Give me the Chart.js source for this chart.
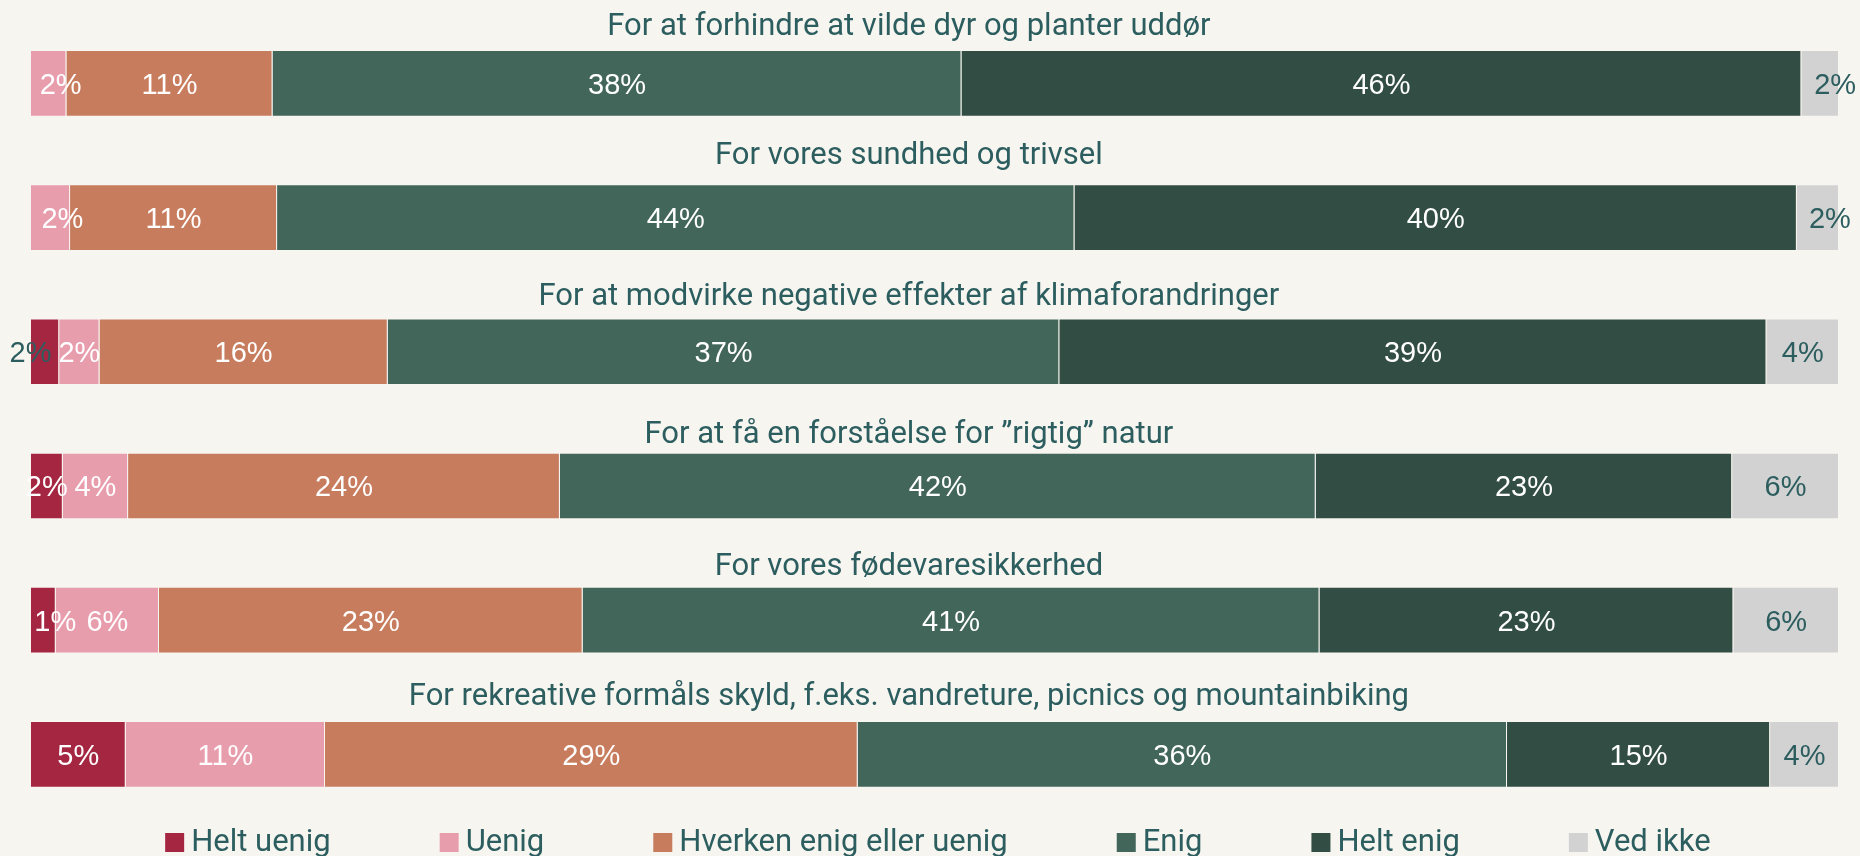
<!DOCTYPE html>
<html><head><meta charset="utf-8">
<script src="https://cdn.jsdelivr.net/npm/chart.js@4.4.1/dist/chart.umd.min.js"></script>
<style>
html,body{margin:0;padding:0;background:#f7f5f0;}
#wrap{width:1860px;height:856px;position:relative;}
</style></head><body>
<div id="wrap"><canvas id="c"></canvas></div>
<script>
const categories = [
  'For at forhindre at vilde dyr og planter uddør',
  'For vores sundhed og trivsel',
  'For at modvirke negative effekter af klimaforandringer',
  'For at få en forståelse for \u201drigtig\u201d natur',
  'For vores fødevaresikkerhed',
  'For rekreative formåls skyld, f.eks. vandreture, picnics og mountainbiking'
];
const seriesNames = ['Helt uenig', 'Uenig', 'Hverken enig eller uenig', 'Enig', 'Helt enig', 'Ved ikke'];
const heltUenig = [0, 0, 1.57, 1.77, 1.38, 5.25];
const uenig     = [1.97, 2.17, 2.23, 3.61, 5.71, 11.02];
const hverken   = [11.4, 11.45, 15.94, 23.88, 23.43, 29.46];
const enig      = [38.1, 44.1, 37.14, 41.80, 40.75, 35.91];
const heltEnig  = [46.45, 39.95, 39.11, 23.03, 22.89, 14.55];
const vedIkke   = [2.08, 2.33, 4.01, 5.91, 5.84, 3.81];
const seriesValues = [heltUenig, uenig, hverken, enig, heltEnig, vedIkke];

const seriesColors = ['#a52641', '#e89dad', '#c87c5e', '#42665a', '#324d44', '#d2d2d2'];
const TEXT = '#2c5d5f';
const labelColors = ['#ffffff', '#ffffff', '#ffffff', '#ffffff', '#ffffff', TEXT];
const TITLE_FONT = '31px Roboto, "Liberation Sans", sans-serif';
const VALUE_FONT = '29px "Liberation Sans", Arial, sans-serif';
const titleGaps = [15, 20.7, 13.3, 9.6, 11.7, 16];
const labelNudges = {'0-5': 15, '1-5': 12, '2-0': -14.5, '0-1': 12, '1-1': 12, '4-0': 12};
const labelColorOverride = {'2-0': TEXT};

const overlay = {
  id: 'overlay',
  beforeDraw(chart) {
    const ctx = chart.ctx;
    ctx.save();
    ctx.fillStyle = '#f7f5f0';
    ctx.fillRect(0, 0, chart.width, chart.height);
    ctx.restore();
  },
  afterDatasetsDraw(chart) {
    const ctx = chart.ctx;
    const area = chart.chartArea;
    ctx.save();
    // category titles above bars
    ctx.font = TITLE_FONT;
    ctx.fillStyle = TEXT;
    ctx.textAlign = 'center';
    ctx.textBaseline = 'alphabetic';
    const meta0 = chart.getDatasetMeta(0);
    const titleX = (area.left + area.right) / 2 - 26;
    chart.data.labels.forEach((cat, i) => {
      const el = meta0.data[i];
      const top = el.y - el.height / 2;
      ctx.fillText(cat, titleX, top - titleGaps[i]);
    });
    // value labels
    ctx.font = VALUE_FONT;
    chart.data.datasets.forEach((ds, d) => {
      const meta = chart.getDatasetMeta(d);
      meta.data.forEach((el, i) => {
        const v = ds.data[i];
        if (!v) return;
        const key = i + '-' + d;
        const cx = (el.x + el.base) / 2 + (labelNudges[key] || 0);
        ctx.fillStyle = labelColorOverride[key] || labelColors[d];
        ctx.fillText(Math.round(v) + '%', cx, el.y + 10.5);
      });
    });
    // legend
    ctx.font = TITLE_FONT;
    ctx.textAlign = 'left';
    const box = 19, boxGap = 7, itemGap = 109;
    const items = chart.data.datasets.map(ds => ({text: ds.label, color: ds.backgroundColor, w: ctx.measureText(ds.label).width}));
    const total = items.reduce((s, it) => s + box + boxGap + it.w, 0) + itemGap * (items.length - 1);
    let x = (area.left + area.right) / 2 + 3 - total / 2;
    const boxTop = area.bottom + 11.5;
    const baseline = area.bottom + 29.5;
    items.forEach(it => {
      ctx.fillStyle = it.color;
      ctx.fillRect(x, boxTop, box, box);
      ctx.fillStyle = TEXT;
      ctx.fillText(it.text, x + box + boxGap, baseline);
      x += box + boxGap + it.w + itemGap;
    });
    ctx.restore();
  }
};

new Chart(document.getElementById('c'), {
  type: 'bar',
  data: {
    labels: categories,
    datasets: seriesNames.map((name, i) => ({
      label: name,
      data: seriesValues[i],
      backgroundColor: seriesColors[i],
      borderColor: 'rgba(255,255,255,0.12)',
      borderWidth: 1,
      barPercentage: 0.497,
      categoryPercentage: 1
    }))
  },
  options: {
    indexAxis: 'y',
    responsive: true,
    maintainAspectRatio: false,
    animation: false,
    layout: {padding: {left: 30.8, right: 21, top: 16.25, bottom: 34.5}},
    scales: {
      x: {stacked: true, min: 0, max: 100, display: false},
      y: {stacked: true, display: false}
    },
    plugins: {legend: {display: false}, tooltip: {enabled: false}}
  },
  plugins: [overlay]
});
</script>
</body></html>
